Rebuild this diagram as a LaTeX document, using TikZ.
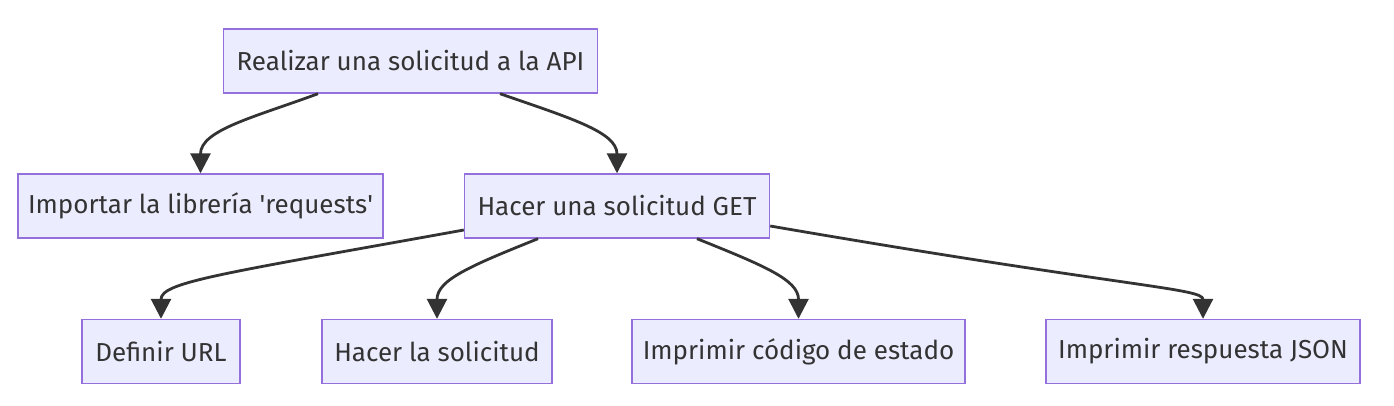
\documentclass[tikz,border=0pt]{standalone}
\usepackage{fontspec}
\setmainfont{Fira Sans}
\usetikzlibrary{arrows.meta,calc}
\definecolor{nodefill}{HTML}{ECECFF}
\definecolor{nodeborder}{HTML}{9370DB}
\definecolor{linecol}{HTML}{333333}
\tikzset{
  box/.style={draw=nodeborder, fill=nodefill, line width=1.4pt, minimum height=64pt,
    inner sep=0pt, text=linecol, font=\fontsize{26}{30}\selectfont, anchor=center},
  conn/.style={draw=linecol, line width=2.8pt, -{Triangle[width=20pt,length=20pt]}},
}
\begin{document}
\begin{tikzpicture}[x=1pt,y=-1pt]
\useasboundingbox (0,0) rectangle (1394,405);
\node[box, minimum width=374pt] (A) at (410.5,61) {Realizar una solicitud a la API};
\node[box, minimum width=365pt] (B) at (200.5,206) {Importar la librería \textquotesingle requests\textquotesingle};
\node[box, minimum width=305pt] (C) at (617,206) {Hacer una solicitud GET};
\node[box, minimum width=158pt] (D) at (161,351.5) {Definir URL};
\node[box, minimum width=230pt] (E) at (437,351.5) {Hacer la solicitud};
\node[box, minimum width=333pt] (F) at (798.5,351.5) {Imprimir código de estado};
\node[box, minimum width=314pt] (G) at (1203,351.5) {Imprimir respuesta JSON};

\draw[conn] ($(A.south)+(-92.5,0)$) .. controls (255,117) and (200.5,130) .. (B.north);
\draw[conn] ($(A.south)+(89.5,0)$) .. controls (570,118) and (617,132) .. (C.north);
\draw[conn] ($(C.west)+(0,24)$) .. controls (220,274) and (161,282) .. (D.north);
\draw[conn] ($(C.south)+(-79,0)$) .. controls (470,266) and (437,280) .. (E.north);
\draw[conn] ($(C.south)+(80,0)$) .. controls (765,266) and (798.5,280) .. (F.north);
\draw[conn] ($(C.east)+(0,20)$) .. controls (1130,288) and (1203,288) .. (G.north);
\end{tikzpicture}
\end{document}
